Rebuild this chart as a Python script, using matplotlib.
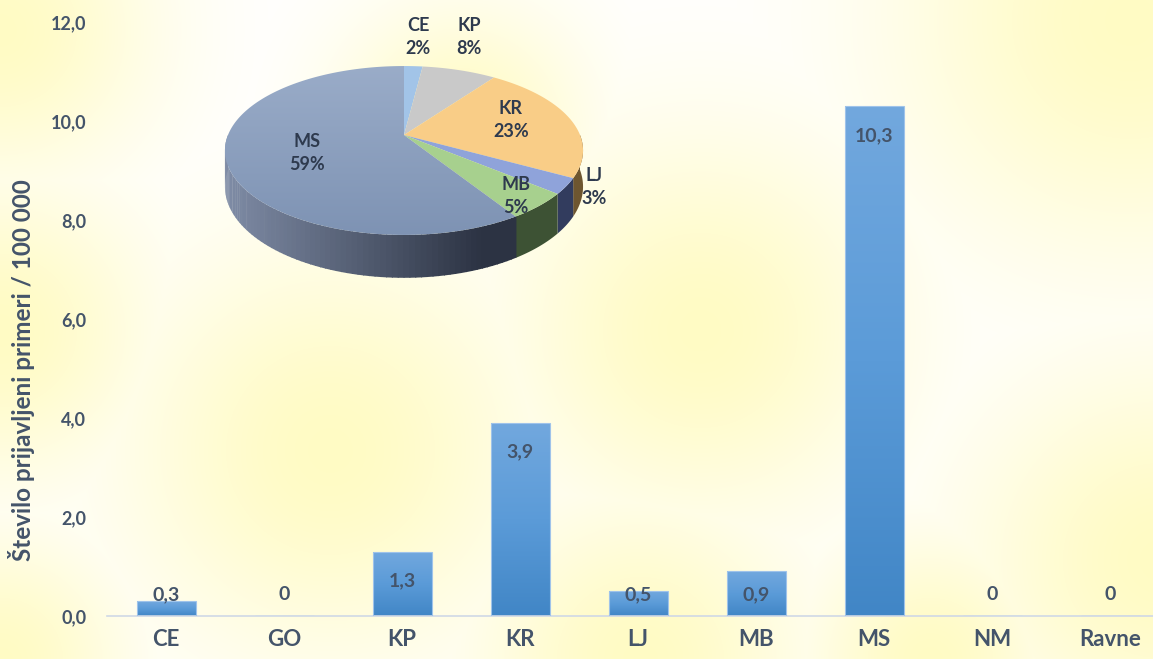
import numpy as np
import matplotlib
matplotlib.use("Agg")
import matplotlib.pyplot as plt
from matplotlib.colors import LinearSegmentedColormap, to_rgb
from matplotlib.patches import Polygon

# Prijavljeni primeri po regijah (na 100 000 prebivalcev)
regije = ['CE', 'GO', 'KP', 'KR', 'LJ', 'MB', 'MS', 'NM', 'Ravne']
vrednosti = [0.3, 0.0, 1.3, 3.9, 0.5, 0.9, 10.3, 0.0, 0.0]
y_ticks = [0, 2, 4, 6, 8, 10, 12]

# Delež po regijah (tortni prikaz)
pie_regije = ['CE', 'KP', 'KR', 'LJ', 'MB', 'MS']
pie_delez = [2, 8, 23, 3, 5, 59]

TXT = '#44546a'
FONT = 'Lato'
W, H = 1153, 659

fig = plt.figure(figsize=(W / 100, H / 100), dpi=100)

# ozadje - mehke rumene lise
bg = fig.add_axes([0, 0, 1, 1], zorder=0)
yy, xx = np.mgrid[0:H, 0:W]
lise = [(330, 450, 150), (700, 330, 140), (1130, 20, 170), (1160, 560, 140),
        (0, 30, 110), (0, 330, 110), (460, 130, 90), (640, 660, 120),
        (0, 660, 90), (930, 660, 90)]
f = np.zeros((H, W))
for cx, cy, r in lise:
    f = np.maximum(f, np.exp(-((xx - cx) ** 2 + (yy - cy) ** 2) / (2 * r ** 2)))
white = np.array([1.0, 1.0, 1.0])
yellow = np.array([1.0, 0.985, 0.77])
img = white + (yellow - white) * f[..., None]
bg.imshow(img, extent=[0, W, H, 0], aspect='auto')
bg.set_xlim(0, W)
bg.set_ylim(H, 0)
bg.axis('off')

# stolpčni diagram
ax = fig.add_axes([107 / W, (H - 616) / H, (W - 107) / W, (616 - 22) / H], zorder=1)
ax.patch.set_alpha(0)
x = np.arange(len(regije))
bars = ax.bar(x, vrednosti, width=0.5, color='none', edgecolor='#9fc3ea', linewidth=0.8, zorder=3)
bar_cmap = LinearSegmentedColormap.from_list('modra', ['#4186c6', '#5b9bd8', '#72a8de'])
grad = np.linspace(0, 1, 256).reshape(-1, 1)
for b in bars:
    if b.get_height() > 0:
        im = ax.imshow(grad, extent=[b.get_x(), b.get_x() + b.get_width(), 0, b.get_height()],
                       origin='lower', aspect='auto', cmap=bar_cmap, zorder=2)
        im.set_clip_path(b)

for xi, v in zip(x, vrednosti):
    lab = ('%.1f' % v).replace('.', ',') if v > 0 else '0'
    ax.text(xi, max(v - 0.59, 0.43), lab, ha='center', va='center',
            fontsize=14, color=TXT, family=FONT, fontweight='bold', zorder=4)

ax.set_xlim(-0.5, -0.5 + (W - 107) / 118)
ax.set_ylim(0, 12)
ax.set_yticks(y_ticks)
ax.set_yticklabels([('%.1f' % t).replace('.', ',') for t in y_ticks])
ax.set_xticks(x)
ax.set_xticklabels(regije)
for lbl in ax.get_xticklabels():
    lbl.set_fontsize(16)
for lbl in ax.get_yticklabels():
    lbl.set_fontsize(13)
for lbl in ax.get_xticklabels() + ax.get_yticklabels():
    lbl.set_color(TXT)
    lbl.set_family(FONT)
    lbl.set_fontweight('bold')
ax.tick_params(axis='y', length=0, pad=15)
ax.tick_params(axis='x', length=0, pad=9)
for s in ['top', 'right', 'left']:
    ax.spines[s].set_visible(False)
ax.spines['bottom'].set_color('#cfd8e6')
ax.spines['bottom'].set_linewidth(1.2)
ax.set_ylabel('Število prijavljeni primeri / 100 000', fontsize=17.5, color=TXT,
              family=FONT, fontweight='bold')
ax.yaxis.set_label_coords(-0.069, 0.414)

# 3D tortni prikaz (perspektivna projekcija, v pikslih)
pa = fig.add_axes([0, 0, 1, 1], zorder=2)
pa.set_xlim(0, W)
pa.set_ylim(H, 0)
pa.axis('off')

PX, PR, K, PH, DEPTH = 404, 176, 0.1834, 445, 35
Y_HOR = 135 - PH


def proj(r, a, d=0.0):
    a = np.radians(a)
    s = 1.0 / (1.0 + K * r * np.sin(a))
    return PX + PR * r * np.cos(a) * s, Y_HOR + (PH + d) * s


meje = [90.0]
for p in pie_delez:
    meje.append(meje[-1] - p / sum(pie_delez) * 360.0)

barve_top = ['#a2c4e8', '#c9c9c9', '#f9cd87', '#8fa3da', '#a7d08e', '#8a9dbc']
barve_stran = ['#6f8fb5', '#8a8a8a', '#6e5630', '#323c5e', '#3d5234', None]

# stranske ploskve (samo sprednja polovica, kot med -180 in 0)
for i in range(len(pie_delez)):
    a0, a1 = meje[i], meje[i + 1]
    lo, hi = max(a1, -180), min(a0, 0)
    if hi <= lo:
        continue
    if barve_stran[i] is None:
        c0 = np.array(to_rgb('#7e8ba5'))
        c1 = np.array(to_rgb('#2c3343'))
        ang = np.linspace(lo, hi, 80)
        for j in range(len(ang) - 1):
            t = np.linspace(ang[j], ang[j + 1] + 0.3, 4)
            xt, yt = proj(1, t)
            xb, yb = proj(1, t, DEPTH)
            xm = (xt.mean() - (PX - PR)) / (2 * PR * 0.72)
            col = c0 + (c1 - c0) * np.clip(xm, 0, 1)
            pa.add_patch(Polygon(np.column_stack([np.r_[xt, xb[::-1]], np.r_[yt, yb[::-1]]]),
                                 closed=True, facecolor=col, edgecolor='none'))
    else:
        t = np.linspace(lo, hi, 40)
        xt, yt = proj(1, t)
        xb, yb = proj(1, t, DEPTH)
        pa.add_patch(Polygon(np.column_stack([np.r_[xt, xb[::-1]], np.r_[yt, yb[::-1]]]),
                             closed=True, facecolor=barve_stran[i], edgecolor='none'))

# zgornje ploskve
cx0, cy0 = proj(0, 0)
for i in range(len(pie_delez)):
    t = np.linspace(meje[i], meje[i + 1], 200)
    xt, yt = proj(1, t)
    poly = Polygon(np.column_stack([np.r_[cx0, xt], np.r_[cy0, yt]]), closed=True,
                   facecolor=barve_top[i], edgecolor='none')
    pa.add_patch(poly)
    if pie_regije[i] == 'MS':
        poly.set_facecolor('none')
        ms_cmap = LinearSegmentedColormap.from_list('ms', ['#9badc9', '#7d92b3'])
        g = np.linspace(0, 1, 256).reshape(-1, 1)
        im = pa.imshow(g, extent=[PX - PR * 1.1, PX + PR * 1.1, 240, 60], origin='upper',
                       aspect='auto', cmap=ms_cmap, zorder=1)
        im.set_clip_path(poly)

pa.set_xlim(0, W)
pa.set_ylim(H, 0)

# oznake tortnega prikaza
lab_pos = [(418, 37), (469, 37), (511, 120), (594, 187), (516, 196), (307, 153)]
for (lx, ly), reg, p in zip(lab_pos, pie_regije, pie_delez):
    pa.text(lx, ly, '%s\n%d%%' % (reg, p), ha='center', va='center', fontsize=13,
            color='#2e3a4e', family=FONT, fontweight='bold', linespacing=1.45, zorder=5)

fig.savefig('out.png', dpi=100)
